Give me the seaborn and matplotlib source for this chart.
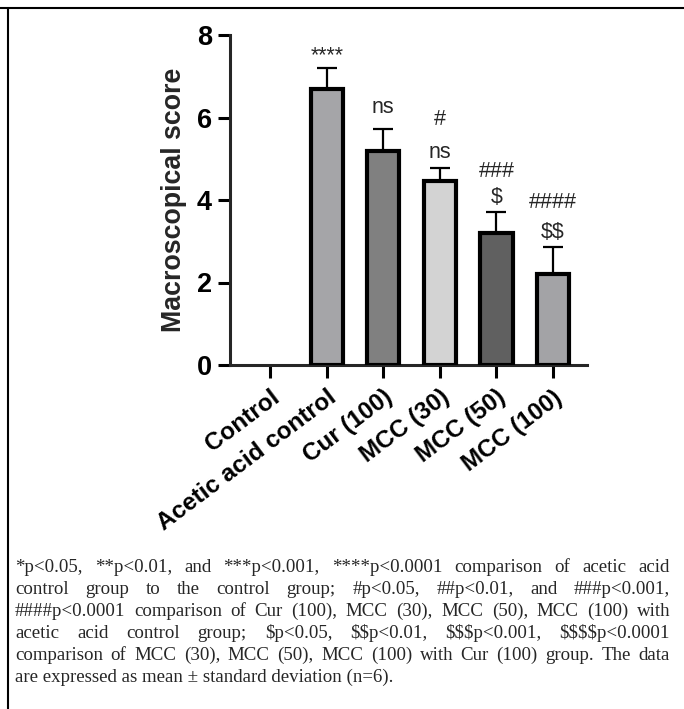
import matplotlib
matplotlib.use("Agg")
import matplotlib.pyplot as plt
import seaborn as sns
import pandas as pd
import numpy as np
from matplotlib.lines import Line2D

groups = ["Control", "Acetic acid control", "Cur (100)", "MCC (30)", "MCC (50)", "MCC (100)"]
means = [0.0, 6.7, 5.2, 4.45, 3.2, 2.2]
sds = [0.0, 0.5, 0.52, 0.33, 0.52, 0.67]
colors = ["#ffffff", "#a5a4a9", "#808080", "#d3d3d3", "#606060", "#a3a3a7"]
annot_top = ["", "****", "ns", "#", "###", "####"]
annot_low = ["", "", "", "ns", "$", "$$"]
annot_top_y = [0, 7.5, 6.25, 5.94, 4.68, 3.95]
annot_low_y = [0, 0, 0, 5.16, 4.07, 3.22]
yticks = [0, 2, 4, 6, 8]

caption_lines = [
    "*p<0.05, **p<0.01, and ***p<0.001, ****p<0.0001 comparison of acetic acid",
    "control group to the control group; #p<0.05, ##p<0.01, and ###p<0.001,",
    "####p<0.0001 comparison of Cur (100), MCC (30), MCC (50), MCC (100) with",
    "acetic acid control group; $p<0.05, $$p<0.01, $$$p<0.001, $$$$p<0.0001",
    "comparison of MCC (30), MCC (50), MCC (100) with Cur (100) group. The data",
    "are expressed as mean \u00b1 standard deviation (n=6).",
]

sns.set_style("ticks")
plt.rcParams["font.family"] = ["Liberation Sans", "DejaVu Sans"]

W, H = 684, 709
fig = plt.figure(figsize=(W / 100, H / 100), dpi=100)
ax = fig.add_axes([230 / W, 1 - 365 / H, (587 - 230) / W, (365 - 35) / H])

df = pd.DataFrame({"group": groups, "mean": means})
sns.barplot(data=df, x="group", y="mean", hue="group", palette=colors, legend=False,
            edgecolor="black", linewidth=3, width=0.57, ax=ax, zorder=3)
for p in ax.patches:
    if p.get_height() == 0:
        p.set_linewidth(0)

xs = np.arange(len(groups))
for i in range(1, len(groups)):
    ax.errorbar(xs[i], means[i], yerr=[[0], [sds[i]]], fmt="none", ecolor="black",
                elinewidth=1.6, capsize=7, capthick=1.6, zorder=2)
    if annot_top[i]:
        ax.text(xs[i], annot_top_y[i], annot_top[i], ha="center", va="center", fontsize=15.5,
                parse_math=False)
    if annot_low[i]:
        ax.text(xs[i], annot_low_y[i], annot_low[i], ha="center", va="center", fontsize=15.5,
                parse_math=False)

ax.set_xlim(-0.71, 5.6)
ax.set_ylim(0, 8)
ax.set_yticks(yticks)
ax.set_yticklabels([str(t) for t in yticks], fontsize=19.5, fontweight="bold")
ax.set_xticks(xs)
ax.set_xticklabels(groups, fontsize=17.5, fontweight="bold", rotation=37, ha="right",
                   rotation_mode="anchor")
ax.set_xlabel("")
ax.set_ylabel("Macroscopical score", fontsize=19.3, fontweight="bold", labelpad=7)
for s in ["top", "right"]:
    ax.spines[s].set_visible(False)
for s in ["left", "bottom"]:
    ax.spines[s].set_linewidth(2.2)
ax.tick_params(axis="both", length=9, width=2.2, colors="black", pad=4)
ax.tick_params(axis="x", pad=6)

# figure border lines
fig.add_artist(Line2D([0, 1], [1 - 8 / H, 1 - 8 / H], color="black", lw=1.5, transform=fig.transFigure))
fig.add_artist(Line2D([8 / W, 8 / W], [0, 1 - 8 / H], color="black", lw=1.5, transform=fig.transFigure))

# justified caption
fig.canvas.draw()
renderer = fig.canvas.get_renderer()
x0, x1 = 15, 670
cap_kw = dict(fontsize=13.6, family=["Liberation Serif", "DejaVu Serif"], va="baseline",
              ha="left", parse_math=False)
for li, line in enumerate(caption_lines):
    yb = 1 - (572 + 22 * li) / H
    words = line.split(" ")
    if li == len(caption_lines) - 1:
        fig.text(x0 / W, yb, line, **cap_kw)
        continue
    widths = []
    for w in words:
        t = fig.text(0, 0, w, **cap_kw)
        widths.append(t.get_window_extent(renderer).width)
        t.remove()
    gap = (x1 - x0 - sum(widths)) / (len(words) - 1)
    x = x0
    for w, wd in zip(words, widths):
        fig.text(x / W, yb, w, **cap_kw)
        x += wd + gap

fig.savefig("out.png", dpi=100)
